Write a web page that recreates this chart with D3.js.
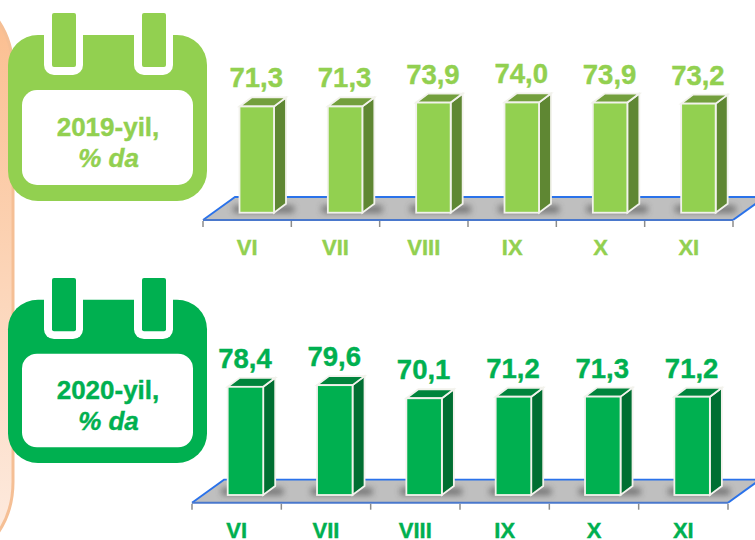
<!DOCTYPE html>
<html>
<head>
<meta charset="utf-8">
<script src="https://cdn.jsdelivr.net/npm/d3@7"></script>
<style>
  html, body { margin: 0; padding: 0; background: #fff; overflow: hidden; }
  text { font-family: "Liberation Sans", Arial, sans-serif; font-weight: bold; }
</style>
</head>
<body>
<div id="chart"></div>
<script>
// months, same for both years
var months = ["VI", "VII", "VIII", "IX", "X", "XI"];

// values
var values2019 = [71.3, 71.3, 73.9, 74.0, 73.9, 73.2];
var values2020 = [78.4, 79.6, 70.1, 71.2, 71.3, 71.2];

var svg = d3.select("#chart").append("svg")
    .attr("width", 755)
    .attr("height", 540)
    .style("display", "block");

var defs = svg.append("defs");

var grad = defs.append("linearGradient")
    .attr("id", "panelFill")
    .attr("gradientUnits", "userSpaceOnUse")
    .attr("x1", 0).attr("y1", 20).attr("x2", 0).attr("y2", 530);
grad.append("stop").attr("offset", "0%").attr("stop-color", "#fbbf91");
grad.append("stop").attr("offset", "100%").attr("stop-color", "#fdeade");

defs.append("filter")
    .attr("id", "blur")
    .attr("x", "-50%").attr("y", "-100%").attr("width", "200%").attr("height", "300%")
  .append("feGaussianBlur")
    .attr("stdDeviation", 3);

// peach panel behind the calendars, mostly off the left edge
svg.append("rect")
    .attr("x", -120)
    .attr("y", -9)
    .attr("width", 133)
    .attr("height", 571)
    .attr("rx", 80)
    .attr("fill", "url(#panelFill)")
    .attr("stroke", "#f5bf95")
    .attr("stroke-width", 3);

// calendar icon with its label
function drawCalendar(top, k, color, year) {
  var g = svg.append("g").attr("transform", "translate(0," + top + ") scale(1," + k + ")");

  g.append("rect")
      .attr("x", 8).attr("y", 22)
      .attr("width", 199).attr("height", 166)
      .attr("rx", 30)
      .attr("fill", color);

  g.append("rect")
      .attr("x", 22).attr("y", 77)
      .attr("width", 171).attr("height", 95)
      .attr("rx", 15)
      .attr("fill", "#fff");

  [44, 134].forEach(function(x) {
    // white halo round the ring, open at the top of the body
    g.append("rect")
        .attr("x", x).attr("y", 10)
        .attr("width", 39).attr("height", 52)
        .attr("rx", 10)
        .attr("fill", "#fff");
    g.append("rect")
        .attr("x", x + 8).attr("y", 0)
        .attr("width", 24).attr("height", 54)
        .attr("rx", 2)
        .attr("fill", color);
  });

  g.append("text")
      .attr("x", 108).attr("y", 123)
      .attr("text-anchor", "middle")
      .attr("font-size", 26)
      .attr("fill", color)
      .attr("stroke", color)
      .attr("stroke-width", 0.4)
      .text(year + "-yil,");

  g.append("text")
      .attr("x", 108.5).attr("y", 154)
      .attr("text-anchor", "middle")
      .attr("font-size", 26)
      .attr("font-style", "italic")
      .attr("fill", color)
      .attr("stroke", color)
      .attr("stroke-width", 0.4)
      .text("% da");
}

// one bar chart: floor, bars with depth, labels
function drawBars(data, o) {
  var g = svg.append("g");

  var x = d3.scaleBand()
      .domain(months)
      .range([o.left, o.right]);

  var y = d3.scaleLinear()
      .domain([0, 100])
      .range([o.base, o.base - o.perHundred]);

  var floorDx = 32, floorDy = 23;
  var depthX = 12, depthY = 9;

  // floor
  g.append("path")
      .attr("d", d3.line()([
        [o.left, o.floorY],
        [o.left + floorDx, o.floorY - floorDy],
        [o.right + floorDx, o.floorY - floorDy],
        [o.right, o.floorY]
      ]) + "Z")
      .attr("fill", "#bfbfbf");

  g.append("path")
      .attr("d", d3.line()([
        [o.left, o.floorY],
        [o.left + floorDx, o.floorY - floorDy],
        [o.right + floorDx, o.floorY - floorDy]
      ]))
      .attr("fill", "none")
      .attr("stroke", "#2a72ea")
      .attr("stroke-width", 1.8);

  g.append("line")
      .attr("x1", o.right).attr("y1", o.floorY)
      .attr("x2", o.right + floorDx).attr("y2", o.floorY - floorDy)
      .attr("stroke", "#2a72ea")
      .attr("stroke-width", 2);

  g.append("line")
      .attr("x1", o.left).attr("y1", o.floorY)
      .attr("x2", o.right).attr("y2", o.floorY)
      .attr("stroke", "#4a78cc")
      .attr("stroke-width", 2);

  // tick marks sit on the band edges
  var edges = months.map(function(m) { return x(m); }).concat([o.right]);
  g.selectAll("line.tick-mark")
      .data(edges)
    .enter().append("line")
      .attr("class", "tick-mark")
      .attr("x1", function(d) { return d; })
      .attr("x2", function(d) { return d; })
      .attr("y1", o.floorY + 1)
      .attr("y2", o.floorY + 7)
      .attr("stroke", "#8c8c8c")
      .attr("stroke-width", 1.5);

  // month labels
  var axis = g.append("g")
      .attr("transform", "translate(0," + o.floorY + ")")
      .call(d3.axisBottom(x).tickSize(0).tickPadding(o.labelPad));
  axis.select(".domain").remove();
  axis.selectAll("text")
      .attr("font-size", 22)
      .attr("font-family", "Liberation Sans")
      .attr("fill", o.color)
      .attr("stroke", o.color)
      .attr("stroke-width", 0.4);

  var barW = o.barWidth;
  var barX = function(m) { return x(m) + o.barOffset; };

  // soft shadow on the floor around each bar foot
  g.selectAll("rect.shadow")
      .data(data)
    .enter().append("rect")
      .attr("class", "shadow")
      .attr("x", function(d, i) { return barX(months[i]) - 6; })
      .attr("y", o.base - 7)
      .attr("width", barW + depthX + 14)
      .attr("height", 7)
      .attr("fill", "#404040")
      .attr("opacity", 0.6)
      .attr("filter", "url(#blur)");

  var bars = g.selectAll("g.bar")
      .data(data)
    .enter().append("g")
      .attr("class", "bar");

  // side face
  bars.append("path")
      .attr("d", function(d, i) {
        var x1 = barX(months[i]) + barW, yt = y(d), yb = y(0);
        return d3.line()([
          [x1, yt], [x1 + depthX, yt - depthY],
          [x1 + depthX, yb - depthY], [x1, yb]
        ]) + "Z";
      })
      .attr("fill", o.sideColor)
      .attr("stroke", "#f2f2ec")
      .attr("stroke-width", 1.8);

  // top face
  bars.append("path")
      .attr("d", function(d, i) {
        var x0 = barX(months[i]), yt = y(d);
        return d3.line()([
          [x0, yt], [x0 + depthX, yt - depthY],
          [x0 + barW + depthX, yt - depthY], [x0 + barW, yt]
        ]) + "Z";
      })
      .attr("fill", o.topColor)
      .attr("stroke", "#f2f2ec")
      .attr("stroke-width", 1.8);

  // front face
  bars.append("rect")
      .attr("x", function(d, i) { return barX(months[i]); })
      .attr("y", function(d) { return y(d); })
      .attr("width", barW)
      .attr("height", function(d) { return y(0) - y(d); })
      .attr("fill", o.color)
      .attr("stroke", "#f2f2ec")
      .attr("stroke-width", 1.8);

  // value labels with a decimal comma
  bars.append("text")
      .attr("x", function(d, i) { return barX(months[i]) + barW / 2 - 0.5; })
      .attr("y", function(d) { return y(d) - depthY - 10; })
      .attr("text-anchor", "middle")
      .attr("font-size", 27.5)
      .attr("fill", o.color)
      .attr("stroke", o.color)
      .attr("stroke-width", 0.4)
      .text(function(d) { return d.toFixed(1).replace(".", ","); });
}

drawCalendar(13, 1, "#92d050", 2019);
drawCalendar(278, 0.984, "#00b050", 2020);

drawBars(values2019, {
  left: 203, right: 733, floorY: 220, base: 212.7, perHundred: 149,
  barWidth: 34.5, barOffset: 36.5, labelPad: 19,
  color: "#92d050", sideColor: "#5f8733", topColor: "#739f3d"
});

drawBars(values2020, {
  left: 192, right: 728, floorY: 502.7, base: 495, perHundred: 138,
  barWidth: 35.5, barOffset: 35.7, labelPad: 20,
  color: "#00b050", sideColor: "#006f32", topColor: "#00843c"
});
</script>
</body>
</html>
